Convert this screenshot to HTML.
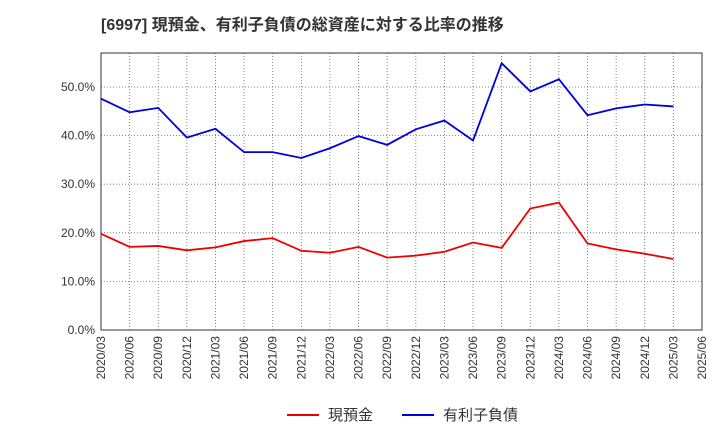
<!DOCTYPE html>
<html><head><meta charset="utf-8"><style>
body{margin:0;background:#fff;font-family:"Liberation Sans","Noto Sans CJK JP",sans-serif;}
svg text{font-family:"Liberation Sans","Noto Sans CJK JP",sans-serif;}
</style></head><body>
<svg id="chart" width="720" height="440" xmlns="http://www.w3.org/2000/svg">
<text x="101" y="30" font-size="16" font-weight="bold" fill="#333">[6997]  現預金、有利子負債の総資産に対する比率の推移</text>
<g id="grid"></g><g id="axes"></g><g id="series"></g>
<g>
<line x1="287" y1="415" x2="319" y2="415" stroke="#e00" stroke-width="2"/>
<text x="328" y="420" font-size="15" fill="#333">現預金</text>
<line x1="402" y1="415" x2="434" y2="415" stroke="#00d" stroke-width="2"/>
<text x="443" y="420" font-size="15" fill="#333">有利子負債</text>
</g>
</svg>
<script>
const categories=["2020/03","2020/06","2020/09","2020/12","2021/03","2021/06","2021/09","2021/12","2022/03","2022/06","2022/09","2022/12","2023/03","2023/06","2023/09","2023/12","2024/03","2024/06","2024/09","2024/12","2025/03","2025/06"];
const cashValues=[19.8,17.1,17.3,16.4,17.0,18.3,18.9,16.3,15.9,17.1,14.9,15.3,16.1,18.0,16.9,25.0,26.2,17.8,16.6,15.7,14.6];
const debtValues=[47.6,44.8,45.7,39.6,41.4,36.6,36.6,35.4,37.4,39.9,38.1,41.3,43.1,39.0,54.9,49.1,51.6,44.2,45.6,46.4,46.0];
const yTicks=[0,10,20,30,40,50];
const L=101,R=702,T=53,B=330,yMax=57;
const x=i=>L+i*(R-L)/(categories.length-1);
const y=v=>B-v*(B-T)/yMax;
const NS="http://www.w3.org/2000/svg";
function mk(tag,attrs,parent){const e=document.createElementNS(NS,tag);for(const k in attrs)e.setAttribute(k,attrs[k]);parent.appendChild(e);return e;}
const grid=document.getElementById('grid'),axes=document.getElementById('axes'),series=document.getElementById('series');
categories.forEach((c,i)=>{
 const gl=mk('line',{x1:x(i),x2:x(i),y1:T,y2:B,stroke:'#666','stroke-dasharray':'1,2','stroke-width':0.8},grid);
 
 
 const t=mk('text',{x:0,y:0,'font-size':12,fill:'#333','text-anchor':'end',transform:`translate(${x(i)+4},${B+6}) rotate(-90)`},axes);
 t.textContent=c;
 
 
});
yTicks.forEach(v=>{
 const gl=mk('line',{x1:L,x2:R,y1:y(v),y2:y(v),stroke:'#666','stroke-dasharray':'1,2','stroke-width':0.8},grid);
 
 
 const t=mk('text',{x:L-6,y:y(v)+4,'font-size':12,fill:'#333','text-anchor':'end'},axes);
 t.textContent=v.toFixed(1)+'%';
 
 
});
const frame=mk('rect',{x:L,y:T,width:R-L,height:B-T,fill:'none',stroke:'#333','stroke-width':1},axes);


const p1=mk('polyline',{points:cashValues.map((v,i)=>x(i)+','+y(v)).join(' '),fill:'none',stroke:'#e00','stroke-width':1.8},series);


const p2=mk('polyline',{points:debtValues.map((v,i)=>x(i)+','+y(v)).join(' '),fill:'none',stroke:'#00d','stroke-width':1.8},series);


</script>
</body></html>
